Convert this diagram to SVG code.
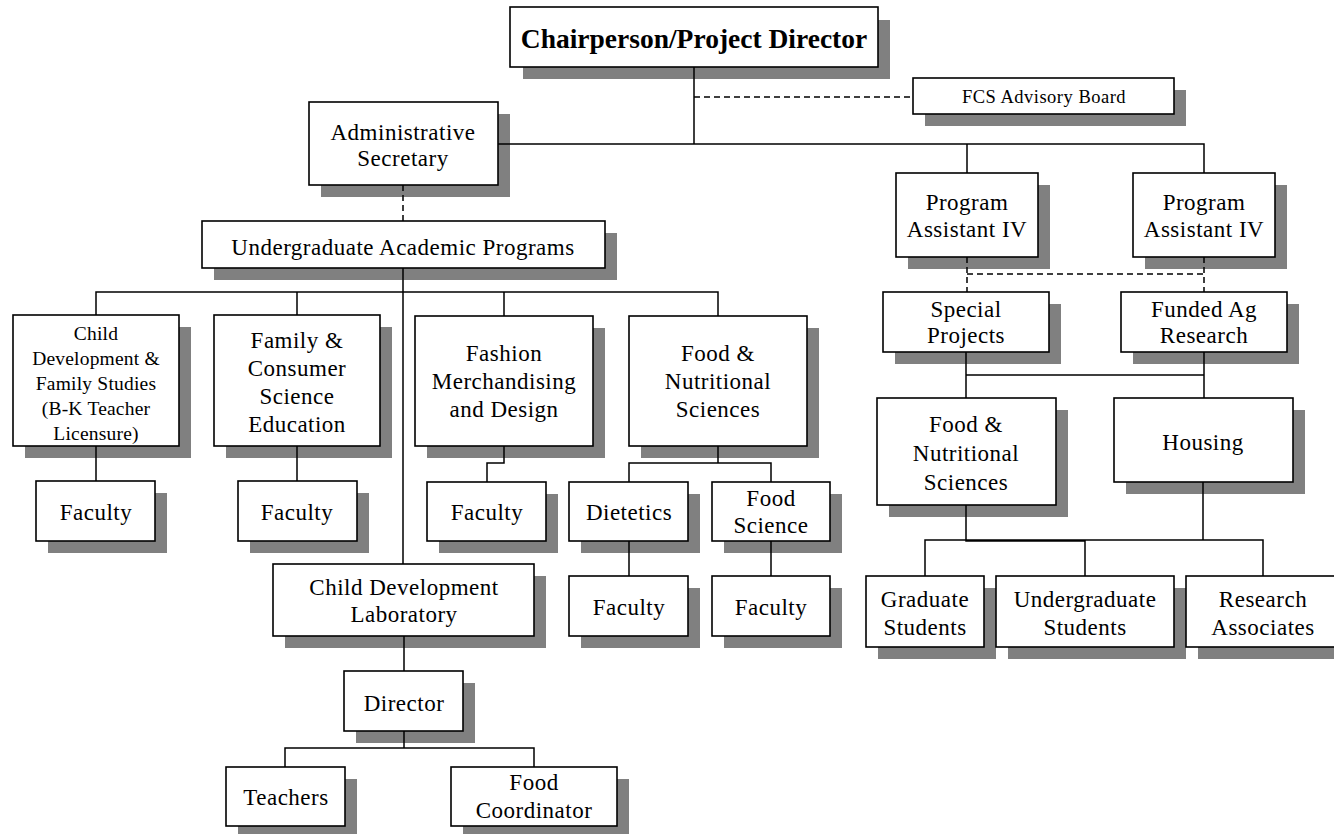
<svg xmlns="http://www.w3.org/2000/svg" width="1334" height="834" viewBox="0 0 1334 834">
<style>
.sh{fill:#808080}
.bx{fill:#fff;stroke:#000;stroke-width:1.6}
text{font-family:"Liberation Serif","Times New Roman",serif;font-size:23px;text-anchor:middle;fill:#000;letter-spacing:0.5px}
.sm{font-size:19.5px;letter-spacing:0.2px}
.fcs{font-size:18.5px}
.b{font-weight:bold;font-size:27.5px;letter-spacing:0}
.ln{stroke:#000;stroke-width:1.5;fill:none}
.da{stroke-dasharray:6 4}
</style>
<rect width="1334" height="834" fill="#fff"/>
<g id="n-chair"><rect class="sh" x="523" y="20" width="367" height="59"/><rect class="bx" x="510" y="7" width="368" height="60"/><text class="b" x="694" y="48">Chairperson/Project Director</text></g>
<g id="n-fcs"><rect class="sh" x="925" y="90" width="261" height="36"/><rect class="bx" x="913" y="78" width="261" height="36"/><text class="fcs" x="1044" y="103">FCS Advisory Board</text></g>
<g id="n-admin"><rect class="sh" x="321" y="114" width="189" height="83"/><rect class="bx" x="309" y="102" width="189" height="83"/><text x="403" y="140">Administrative</text><text x="403" y="166">Secretary</text></g>
<g id="n-uap"><rect class="sh" x="214" y="233" width="403" height="47"/><rect class="bx" x="202" y="221" width="403" height="47"/><text x="403" y="255">Undergraduate Academic Programs</text></g>
<g id="n-pa1"><rect class="sh" x="908" y="185" width="142" height="84"/><rect class="bx" x="896" y="173" width="142" height="84"/><text x="967" y="210">Program</text><text x="967" y="237">Assistant IV</text></g>
<g id="n-pa2"><rect class="sh" x="1145" y="185" width="142" height="84"/><rect class="bx" x="1133" y="173" width="142" height="84"/><text x="1204" y="210">Program</text><text x="1204" y="237">Assistant IV</text></g>
<g id="n-sp"><rect class="sh" x="895" y="304" width="166" height="60"/><rect class="bx" x="883" y="292" width="166" height="60"/><text x="966" y="317">Special</text><text x="966" y="343">Projects</text></g>
<g id="n-far"><rect class="sh" x="1133" y="304" width="166" height="60"/><rect class="bx" x="1121" y="292" width="166" height="60"/><text x="1204" y="317">Funded Ag</text><text x="1204" y="343">Research</text></g>
<g id="n-fns2"><rect class="sh" x="889" y="410" width="179" height="107"/><rect class="bx" x="877" y="398" width="179" height="107"/><text x="966" y="432">Food &amp;</text><text x="966" y="461">Nutritional</text><text x="966" y="490">Sciences</text></g>
<g id="n-housing"><rect class="sh" x="1126" y="410" width="179" height="84"/><rect class="bx" x="1114" y="398" width="179" height="84"/><text x="1203" y="450">Housing</text></g>
<g id="n-grad"><rect class="sh" x="878" y="588" width="118" height="71"/><rect class="bx" x="866" y="576" width="118" height="71"/><text x="925" y="607">Graduate</text><text x="925" y="635">Students</text></g>
<g id="n-ugrad"><rect class="sh" x="1008" y="588" width="178" height="71"/><rect class="bx" x="996" y="576" width="178" height="71"/><text x="1085" y="607">Undergraduate</text><text x="1085" y="635">Students</text></g>
<g id="n-ra"><rect class="sh" x="1198" y="588" width="154" height="71"/><rect class="bx" x="1186" y="576" width="154" height="71"/><text x="1263" y="607">Research</text><text x="1263" y="635">Associates</text></g>
<g id="n-cdfs"><rect class="sh" x="25" y="327" width="166" height="131"/><rect class="bx" x="13" y="315" width="166" height="131"/><text class="sm" x="96" y="340">Child</text><text class="sm" x="96" y="365">Development &amp;</text><text class="sm" x="96" y="390">Family Studies</text><text class="sm" x="96" y="415">(B-K Teacher</text><text class="sm" x="96" y="440">Licensure)</text></g>
<g id="n-fcse"><rect class="sh" x="226" y="327" width="166" height="131"/><rect class="bx" x="214" y="315" width="166" height="131"/><text x="297" y="348">Family &amp;</text><text x="297" y="376">Consumer</text><text x="297" y="404">Science</text><text x="297" y="432">Education</text></g>
<g id="n-fmd"><rect class="sh" x="427" y="328" width="178" height="130"/><rect class="bx" x="415" y="316" width="178" height="130"/><text x="504" y="361">Fashion</text><text x="504" y="389">Merchandising</text><text x="504" y="417">and Design</text></g>
<g id="n-fns1"><rect class="sh" x="641" y="328" width="178" height="130"/><rect class="bx" x="629" y="316" width="178" height="130"/><text x="718" y="361">Food &amp;</text><text x="718" y="389">Nutritional</text><text x="718" y="417">Sciences</text></g>
<g id="n-fac1"><rect class="sh" x="48" y="493" width="119" height="60"/><rect class="bx" x="36" y="481" width="119" height="60"/><text x="96" y="520">Faculty</text></g>
<g id="n-fac2"><rect class="sh" x="250" y="493" width="119" height="60"/><rect class="bx" x="238" y="481" width="119" height="60"/><text x="297" y="520">Faculty</text></g>
<g id="n-fac3"><rect class="sh" x="439" y="494" width="119" height="59"/><rect class="bx" x="427" y="482" width="119" height="59"/><text x="487" y="520">Faculty</text></g>
<g id="n-diet"><rect class="sh" x="581" y="494" width="119" height="59"/><rect class="bx" x="569" y="482" width="119" height="59"/><text x="629" y="520">Dietetics</text></g>
<g id="n-fsci"><rect class="sh" x="724" y="494" width="118" height="59"/><rect class="bx" x="712" y="482" width="118" height="59"/><text x="771" y="506">Food</text><text x="771" y="533">Science</text></g>
<g id="n-fac4"><rect class="sh" x="581" y="588" width="119" height="60"/><rect class="bx" x="569" y="576" width="119" height="60"/><text x="629" y="615">Faculty</text></g>
<g id="n-fac5"><rect class="sh" x="724" y="588" width="118" height="60"/><rect class="bx" x="712" y="576" width="118" height="60"/><text x="771" y="615">Faculty</text></g>
<g id="n-cdl"><rect class="sh" x="285" y="576" width="261" height="72"/><rect class="bx" x="273" y="564" width="261" height="72"/><text x="404" y="595">Child Development</text><text x="404" y="622">Laboratory</text></g>
<g id="n-dir"><rect class="sh" x="356" y="683" width="119" height="60"/><rect class="bx" x="344" y="671" width="119" height="60"/><text x="404" y="711">Director</text></g>
<g id="n-teach"><rect class="sh" x="238" y="779" width="119" height="59"/><rect class="bx" x="226" y="767" width="119" height="59"/><text x="286" y="805">Teachers</text></g>
<g id="n-fcoord"><rect class="sh" x="463" y="779" width="166" height="59"/><rect class="bx" x="451" y="767" width="166" height="59"/><text x="534" y="790">Food</text><text x="534" y="818">Coordinator</text></g>
<g id="connectors">
<path class="ln" d="M694,67 V144 M498,144 H1204 V173 M967,144 V173"/>
<path class="ln da" d="M694,97 H913"/>
<path class="ln da" d="M403,185 V221"/>
<path class="ln da" d="M967,257 V292 M1204,257 V292 M967,274 H1204"/>
<path class="ln" d="M966,352 V398 M1204,352 V398 M966,375 H1204"/>
<path class="ln" d="M966,505 V541 H1085 M1203,482 V540 M925,576 V540 H1263 V576 M1085,540 V576"/>
<path class="ln" d="M403,268 V564 M96,315 V292 H718 V316 M297,292 V315 M504,292 V316"/>
<path class="ln" d="M96,446 V481 M297,446 V481 M504,446 V463 H487 V482 M718,446 V463 M629,482 V463 H771 V482 M629,541 V576 M771,541 V576"/>
<path class="ln" d="M404,636 V671 M404,731 V748 M285,767 V748 H534 V767"/>
</g>
</svg>
